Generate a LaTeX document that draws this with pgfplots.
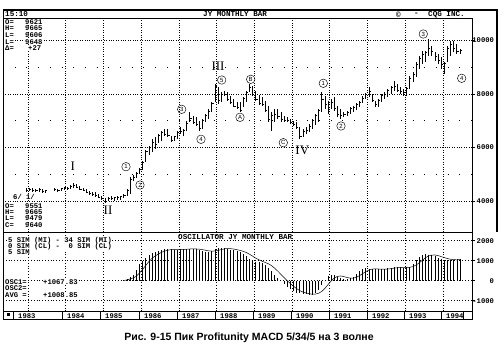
\documentclass[border=0pt]{standalone}
\usepackage{fontspec}
\setmainfont{Liberation Sans}
\newfontfamily\mono{Liberation Mono}
\newfontfamily\serifrm{Liberation Serif}
\usepackage{pgfplots}
\pgfplotsset{compat=1.18}
\usepackage{pgfplotstable}
\newcommand\cqg{\mono\bfseries\fontsize{7.2}{8}\selectfont}
\newcommand\cqgt{\mono\bfseries\fontsize{7.6}{8}\selectfont}

\pgfdeclareplotmark{ctick}{\pgfpathmoveto{\pgfqpoint{0pt}{0pt}}\pgfpathlineto{\pgfqpoint{1.7pt}{0pt}}\pgfusepathqstroke}

% monthly bars: i = month index (0 = Dec 1982), high, low, close
\pgfplotstableread{
i h l c
0 4480 4330 4400
1 4500 4360 4450
2 4470 4320 4380
3 4450 4330 4400
4 4490 4350 4420
5 4430 4300 4350
6 4420 4290 4380
9 4470 4360 4430
10 4460 4340 4400
11 4500 4380 4470
12 4540 4420 4500
13 4520 4400 4480
14 4580 4440 4530
15 4660 4480 4600
16 4620 4480 4520
17 4560 4400 4450
18 4500 4360 4400
19 4450 4300 4330
20 4380 4220 4280
21 4350 4200 4260
22 4320 4150 4200
23 4250 4100 4150
24 4200 4050 4080
25 4120 3920 4000
26 4150 3990 4100
27 4170 4020 4080
28 4160 4010 4120
29 4180 4040 4140
30 4200 4050 4160
31 4260 4100 4200
32 4440 4200 4400
33 4880 4250 4800
34 4980 4750 4900
35 5100 4850 5050
36 5250 5000 5200
37 5500 5150 5450
38 5900 5450 5850
39 6050 5700 6000
40 6310 5820 6200
41 6390 5940 6100
42 6500 6150 6450
43 6610 6250 6550
44 6690 6420 6500
45 6690 6390 6450
46 6420 6200 6250
47 6420 6240 6400
48 6610 6310 6550
49 6760 6500 6600
50 6690 6420 6650
51 6990 6610 6900
52 7320 6950 7100
53 7170 6870 6950
54 7130 6800 6850
55 6990 6610 6700
56 7060 6690 7000
57 7250 6950 7200
58 7440 7060 7350
59 7700 7320 7650
60 8380 7700 8300
61 8260 7620 7750
62 8080 7700 8000
63 8110 7920 8000
64 8080 7740 7800
65 7920 7620 7700
66 7810 7510 7550
67 7700 7440 7500
68 7700 7320 7400
69 7900 7500 7850
70 8110 7700 8050
71 8380 8070 8250
72 8300 7920 8000
73 8110 7740 7800
74 7950 7600 7650
75 7890 7550 7600
76 7740 7330 7400
77 7550 6950 7050
78 7330 6610 7200
79 7440 6950 7250
80 7440 7060 7150
81 7330 6950 7050
82 7180 6950 7000
83 7140 6950 7000
84 7060 6870 6950
85 6990 6800 6850
86 6950 6690 6750
87 6760 6310 6400
88 6690 6390 6600
89 6760 6500 6650
90 6870 6570 6800
91 7060 6690 7000
92 7250 6850 7200
93 7440 6950 7400
94 8075 7325 7800
95 7925 7437 7600
96 7737 7250 7500
97 7812 7437 7700
98 7887 7362 7450
99 7550 7137 7250
100 7437 7062 7200
101 7325 7137 7250
102 7362 7175 7300
103 7512 7250 7450
104 7550 7325 7500
105 7650 7400 7600
106 7750 7500 7700
107 7925 7650 7850
108 8050 7800 8000
109 8263 7887 8100
110 8000 7700 7750
111 7737 7512 7600
112 7812 7512 7750
113 8000 7700 7950
114 8075 7812 8000
115 8188 7887 8150
116 8300 8000 8250
117 8488 8113 8300
118 8375 8075 8150
119 8263 8000 8100
120 8188 7925 8050
121 8263 7925 8200
122 8675 8188 8600
123 8825 8450 8750
124 9200 8638 9100
125 9426 8938 9350
126 9613 9126 9500
127 9613 9200 9550
128 10064 9426 9700
129 9801 9426 9600
130 9576 9238 9400
131 9501 9126 9250
132 9388 8938 9100
133 9200 8750 9150
134 9801 9200 9700
135 9989 9426 9850
136 9989 9576 9700
137 9876 9501 9600
138 9665 9479 9640
}\price

% oscillator: month index (0 = Jan 1983), histogram (5-34), signal (5 SMA)
\pgfplotstableread{
x y s
30 20 10
31 80 40
32 180 90
33 285 140
34 550 223
35 850 389
36 1000 573
37 1150 767
38 1260 962
39 1360 1124
40 1430 1240
41 1500 1340
42 1540 1418
43 1580 1482
44 1580 1526
45 1560 1552
46 1540 1560
47 1550 1562
48 1580 1562
49 1600 1566
50 1590 1572
51 1600 1584
52 1590 1592
53 1560 1588
54 1540 1576
55 1480 1554
56 1440 1522
57 1440 1492
58 1500 1480
59 1580 1488
60 1620 1516
61 1640 1556
62 1620 1592
63 1580 1608
64 1550 1602
65 1520 1582
66 1480 1550
67 1440 1514
68 1350 1468
69 1250 1408
70 1100 1324
71 980 1224
72 950 1126
73 930 1042
74 900 972
75 800 912
76 650 846
77 480 752
78 300 626
79 150 476
80 0 316
81 -150 156
82 -300 0
83 -420 -144
84 -520 -278
85 -600 -398
86 -640 -496
87 -660 -568
88 -660 -616
89 -700 -652
90 -720 -676
91 -600 -668
92 -450 -626
93 -200 -534
94 50 -384
95 250 -190
96 300 -10
97 280 136
98 200 216
99 150 236
100 100 206
101 80 162
102 120 130
103 200 130
104 350 170
105 500 250
106 600 354
107 620 454
108 600 534
109 580 580
110 560 592
111 560 584
112 580 576
113 600 576
114 620 584
115 650 602
116 680 626
117 680 646
118 660 658
119 650 664
120 660 666
121 700 670
122 850 704
123 1050 782
124 1200 892
125 1300 1020
126 1340 1148
127 1300 1238
128 1270 1282
129 1220 1286
130 1150 1256
131 1080 1204
132 1050 1154
133 1030 1106
134 1050 1072
135 1040 1050
136 1060 1046
137 1068 1050
}\osc

\pgfplotsset{
  cqgaxis/.style={
    scale only axis, width=469pt,
    xmin=-7.96, xmax=141.3,
    xtick={0,12,...,132}, xticklabels={},
    major x tick style={/pgfplots/major tick length=0pt},
    xmajorgrids,
    ytick pos=right, yticklabel pos=right,
    ytick align=outside, major y tick style={black, line width=0.5pt},
    major tick length=2.5pt, minor tick length=0pt,
    scaled y ticks=false,
    yticklabel style={font=\cqg, anchor=east, xshift=23pt},
    /pgf/number format/1000 sep={},
    /pgf/number format/assume math mode=true,
  }
}

\begin{document}
\begin{tikzpicture}
\path[use as bounding box] (0,0) rectangle (504pt,351pt);

% price panel
\begin{axis}[cqgaxis, at={(3pt,119pt)}, anchor=south west, height=214pt,
  ymin=2840, ymax=10840,
  ytick={4000,6000,8000,10000}, minor ytick={5000,7000,9000},
  ymajorgrids, yminorgrids,
  axis line style={line width=0.6pt},
  major grid style={black, line width=0.5pt, dash pattern=on 0.6pt off 1.8pt},
  minor grid style={black, line width=0.6pt, dash pattern=on 0.7pt off 11pt},
]
\addplot[black, only marks, mark=ctick, mark options={line width=0.7pt},
  error bars/.cd, y dir=both, y explicit, error mark=none,
  error bar style={black, line width=0.85pt}]
  table[x expr=\thisrow{i}-0.5, y=c,
        y error plus expr=\thisrow{h}-\thisrow{c},
        y error minus expr=\thisrow{c}-\thisrow{l}] {\price};
\end{axis}

% oscillator panel
\begin{axis}[cqgaxis, at={(3pt,40pt)}, anchor=south west, height=79pt,
  ymin=-1515, ymax=2435,
  ytick={-1000,0,1000,2000},
  ymajorgrids,
  axis line style={line width=0.6pt},
  major grid style={black, line width=0.5pt, dash pattern=on 0.6pt off 2.2pt},
]
\addplot[ycomb, black, line width=0.75pt] table[x expr=\thisrow{x}+0.5, y=y] {\osc};
\addplot[black, line width=0.5pt] table[x expr=\thisrow{x}+0.5, y=s] {\osc};
\end{axis}

\begin{scope}[yshift=351pt, x=1pt, y=-1pt]
% frame
\draw[line width=1.3pt] (3,10) -- (497,10) -- (497,232);
\draw[line width=1pt] (3,10) -- (3,320) -- (472,320);
\draw[line width=0.7pt] (3,18) -- (472,18);
\draw[line width=0.9pt] (3,232) -- (472,232);
\draw[line width=0.8pt] (3,311) -- (472,311) -- (472,320);
\foreach \s in {13,62,100,139,177,215,253,291,329,367,404,441,463}
  \draw[line width=0.6pt] (\s,311) -- (\s,320);
\fill (6.5,313.5) rectangle (9.5,316.5);
\foreach \s/\y in {13/1983,62/1984,100/1985,139/1986,177/1987,215/1988,253/1989,291/1990,329/1991,367/1992,404/1993,441/1994}
  \node[anchor=west, inner sep=0, font=\cqg] at (\s+5,315.7) {\y};

% header texts
\node[anchor=west, inner sep=0, font=\cqgt] at (5,14.3) {15:10};
\node[anchor=west, inner sep=0, font=\cqgt] at (203,14.3) {JY MONTHLY BAR};
\node[anchor=west, inner sep=0, font=\cqgt] at (396,14.3) {\textcopyright};
\node[anchor=west, inner sep=0, font=\cqgt] at (414,14.3) {-};
\node[anchor=west, inner sep=0, font=\cqgt] at (428,14.3) {CQG INC.};

% top-left block
\foreach \l/\v/\y in {O=/9621/21.7, H=/9665/28.3, L=/9606/35, L=/9648/41.7}{
  \node[anchor=west, inner sep=0, font=\cqg, fill=white] at (5,\y) {\l};
  \node[anchor=west, inner sep=0, font=\cqg, fill=white] at (25,\y) {\v};
}
\node[anchor=west, inner sep=0, font=\cqg, fill=white] at (5,48.3) {Δ=};
\node[anchor=west, inner sep=0, font=\cqg, fill=white] at (28,48.3) {+27};

% bottom-left block
\node[anchor=west, inner sep=0, font=\cqg, fill=white] at (13,197) {6/ 1/};
\foreach \l/\v/\y in {O=/9551/205.8, H=/9665/212.2, L=/9479/218.6, C=/9640/225.2}{
  \node[anchor=west, inner sep=0, font=\cqg, fill=white] at (5,\y) {\l};
  \node[anchor=west, inner sep=0, font=\cqg, fill=white] at (25,\y) {\v};
}

% oscillator texts
\node[anchor=west, inner sep=0, font=\cqgt] at (178,237.3) {OSCILLATOR JY MONTHLY BAR};
\node[anchor=west, inner sep=0, font=\cqg, fill=white] at (8,240.5) {5 SIM (MI) - 34 SIM (MI)};
\node[anchor=west, inner sep=0, font=\cqg, fill=white] at (8,246.2) {0 SIM (CL) -\ \ 0 SIM (CL)};
\node[anchor=west, inner sep=0, font=\cqg, fill=white] at (8,251.8) {5 SIM};
\node[anchor=west, inner sep=0, font=\cqg, fill=white] at (5,282) {OSC1=};
\node[anchor=west, inner sep=0, font=\cqg, fill=white] at (43,282) {+1067.83};
\node[anchor=west, inner sep=0, font=\cqg, fill=white] at (5,288.2) {OSC2=};
\node[anchor=west, inner sep=0, font=\cqg, fill=white] at (5,295.5) {AVG =};
\node[anchor=west, inner sep=0, font=\cqg, fill=white] at (43,295.5) {+1008.85};

% wave labels
\foreach \t/\x/\y in {I/72.7/166.7, II/108/210, III/218/66, IV/302.3/150}
  \node[inner sep=0, font=\serifrm\fontsize{13}{14}\selectfont] at (\x,\y) {\t};
\foreach \t/\x/\y in {1/126/166.7, 2/140/185, 3/181.7/109.3, 4/201/139.3, 5/221.7/80,
   A/240/117.3, B/250.7/79.3, C/283.3/142.7, 1/323.3/83.3, 2/341/126, 3/423.3/34, 4/461.7/78.3}
  \node[draw, circle, line width=0.45pt, minimum size=8.5pt, inner sep=0,
        font=\fontsize{6}{6}\selectfont] at (\x,\y) {\t};

% caption
\node[font=\bfseries\fontsize{10.5}{12}\selectfont] at (249,338) {Рис. 9-15 Пик Profitunity MACD 5/34/5 на 3 волне};
\end{scope}
\end{tikzpicture}
\end{document}
